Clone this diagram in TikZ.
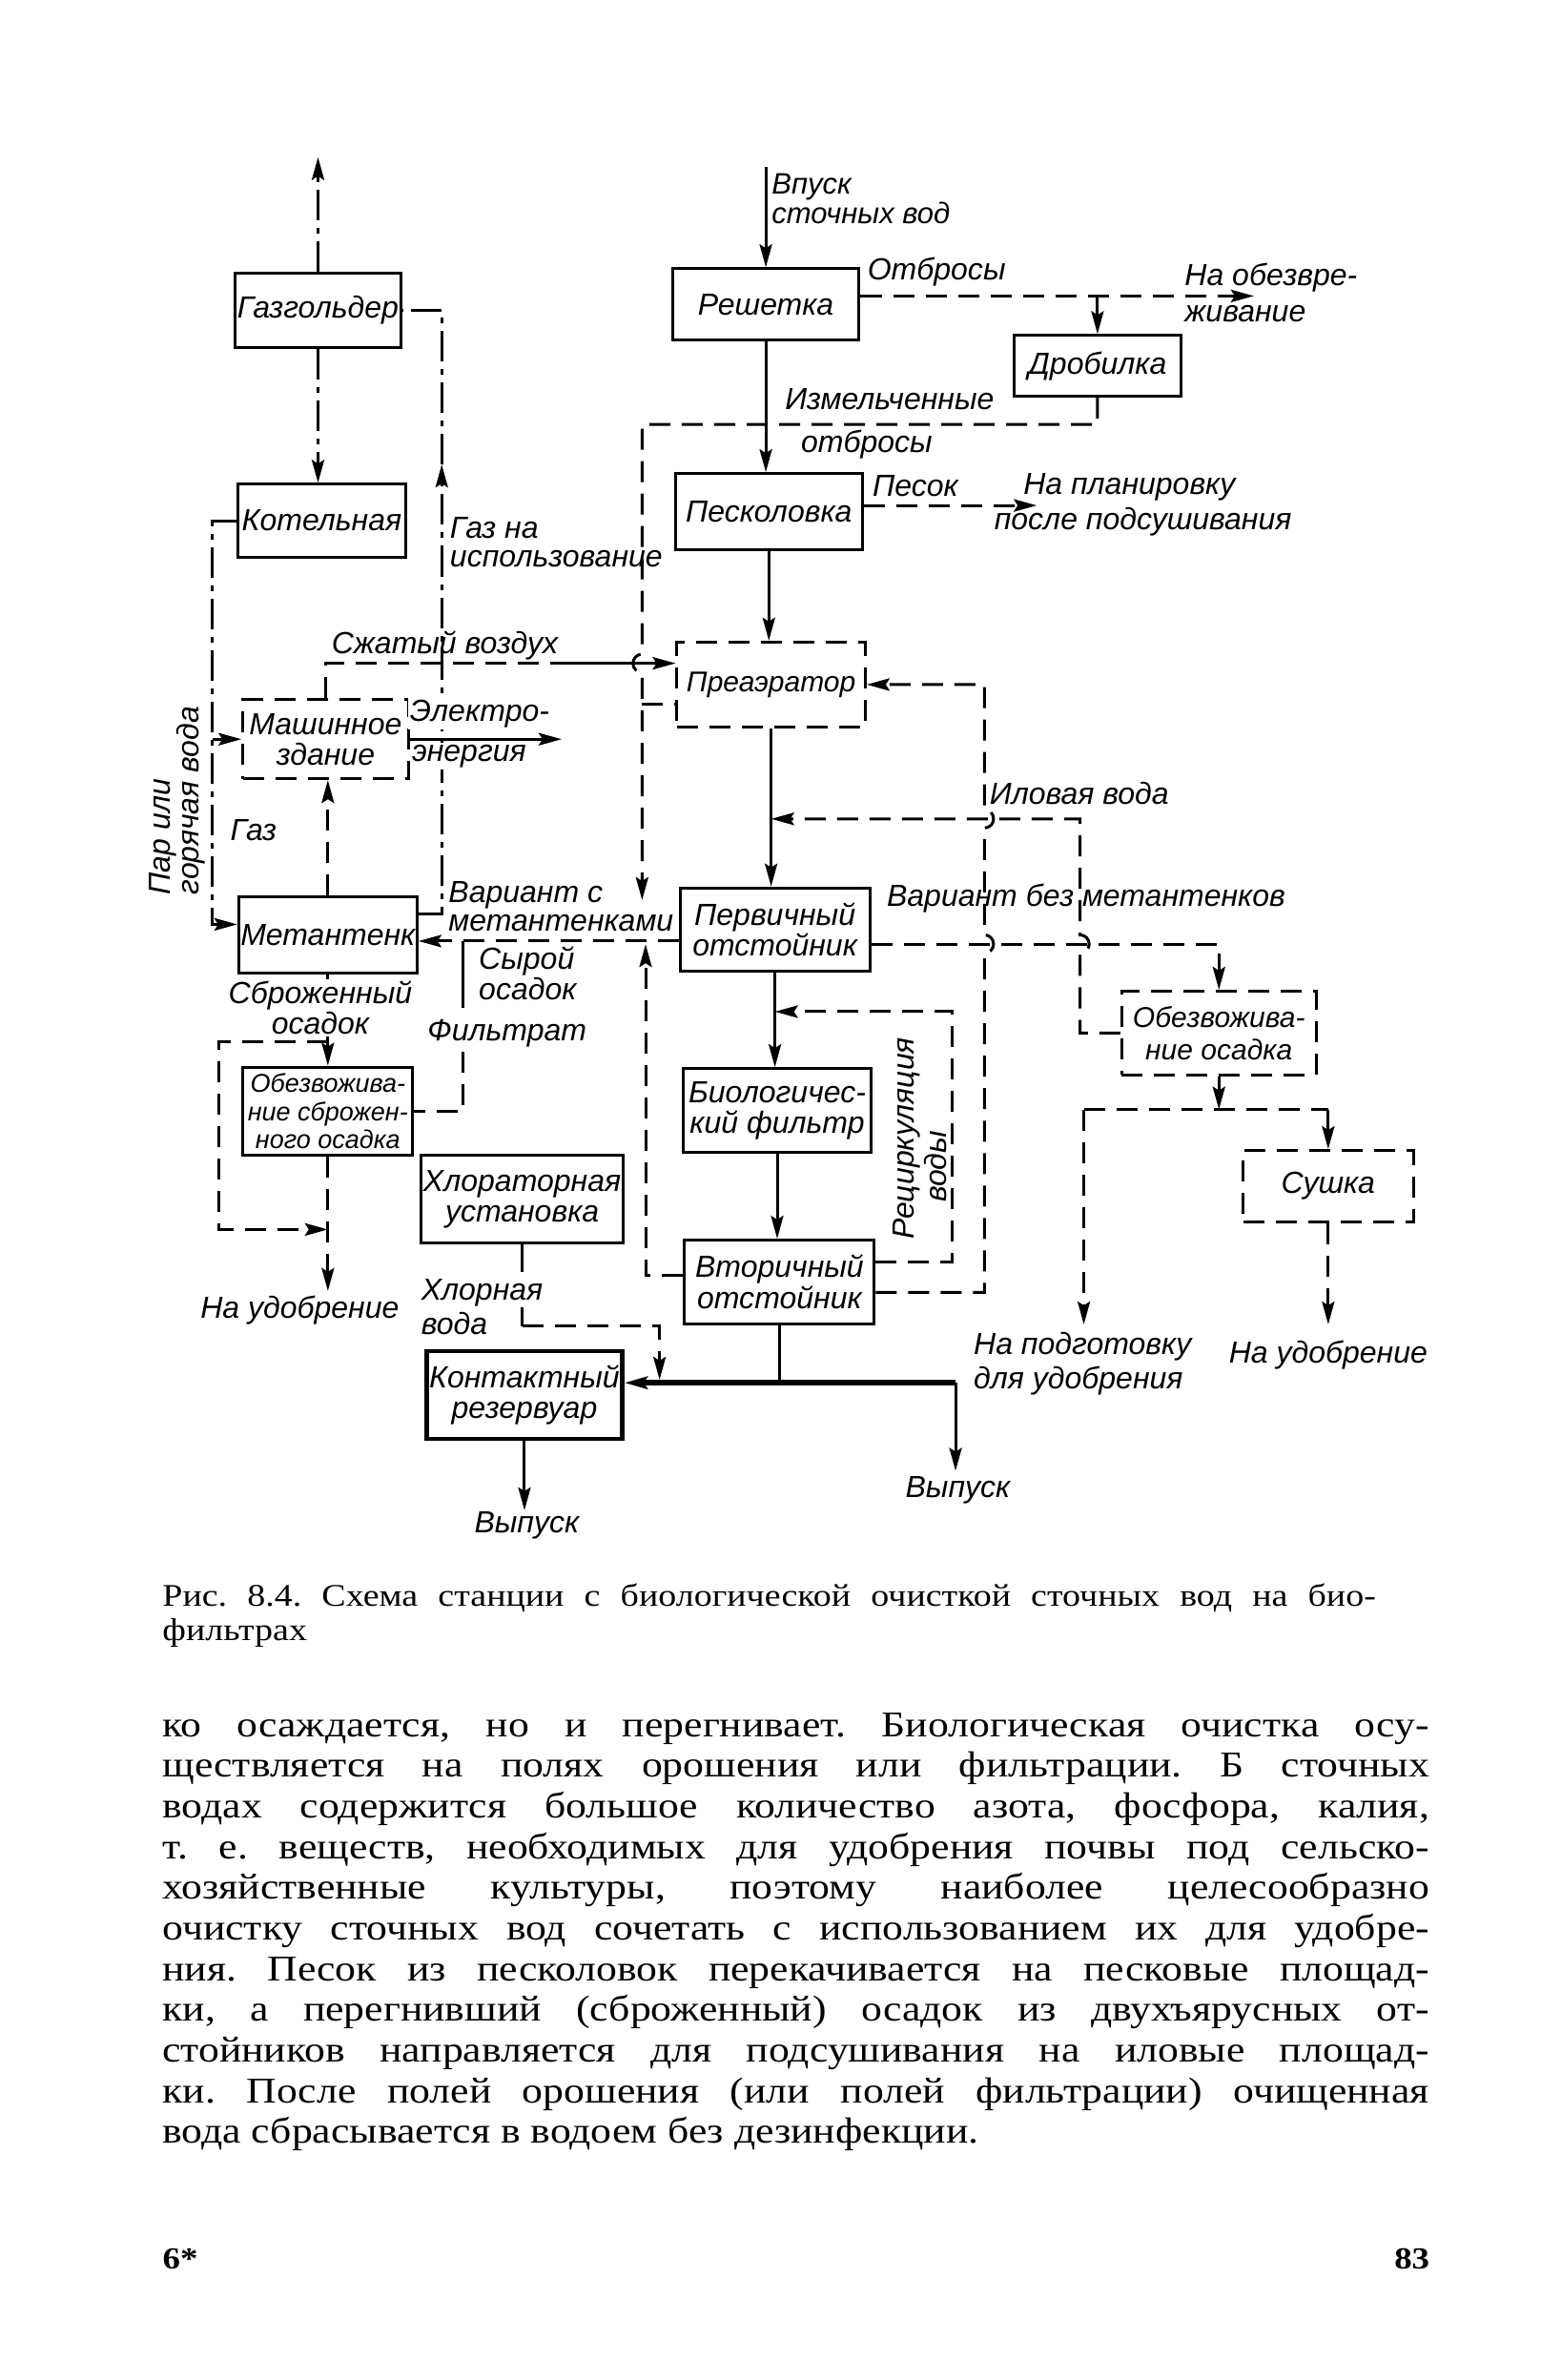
\documentclass[tikz,border=0pt]{standalone}
\usepackage{fontspec}
\setmainfont{Liberation Serif}
\newfontfamily\gost{Liberation Sans}
\newfontfamily\bookfont{Liberation Serif}[FakeStretch=1.15]
\usetikzlibrary{arrows.meta,calc}

\newcommand{\lblfont}{\gost\itshape\fontsize{16}{16}\selectfont}
\newcommand{\midfont}{\gost\itshape\fontsize{15}{17}\selectfont}
\newcommand{\smlfont}{\gost\itshape\fontsize{13.5}{14.5}\selectfont}
\newcommand{\txtfont}{\bookfont\fontsize{19}{20}\selectfont}

\begin{document}
\frenchspacing
\begin{tikzpicture}[x=0.7956pt,y=-0.7956pt,
  >={Stealth[length=12pt,width=6.5pt,inset=2pt]},
  box/.style={draw,line width=1.5pt,inner sep=1pt,align=center,font=\lblfont},
  dbox/.style={box,dash pattern=on 11pt off 6pt},
  sz/.style 2 args={minimum width=#1*0.7956pt,minimum height=#2*0.7956pt},
  mline/.style={line width=1.5pt},
  dline/.style={line width=1.5pt,dash pattern=on 11pt off 6pt},
  gline/.style={line width=1.5pt,dash pattern=on 16pt off 4pt on 3pt off 4pt},
  bline/.style={line width=3pt},
  lab/.style={font=\lblfont,inner sep=1pt,align=center},
]
\useasboundingbox (0,0) rectangle (1015,1568);

%Boxes
\node[box,sz={109}{49}] (gasholder) at (209.5,204.5) {Газгольдер};
\node[box,sz={110}{48}] (boiler) at (212,343) {Котельная};
\node[dbox,sz={109}{52}] (machine) at (214.5,487) {Машинное\\здание};
\node[box,sz={110}{50}] (digester) at (216,616) {Метантенк};
\node[box,sz={112}{58},font=\smlfont] (dewatA) at (216,732) {Обезвожива-\\ние сброжен-\\ного осадка};
\node[box,sz={128}{58}] (chlor) at (344,790) {Хлораторная\\установка};
\node[box,sz={129}{58},line width=2.2pt] (contact) at (345.5,919) {Контактный\\резервуар};
\node[box,sz={123}{47}] (screen) at (504.5,200.5) {Решетка};
\node[box,sz={110}{40}] (crusher) at (723,241) {Дробилка};
\node[box,sz={123}{50}] (grit) at (506.5,337) {Песколовка};
\node[dbox,sz={124}{56},font=\midfont] (preaer) at (508,451) {Преаэратор};
\node[box,sz={125}{55}] (primary) at (510.5,612.5) {Первичный\\отстойник};
\node[box,sz={124}{55}] (biofilter) at (512,731.5) {Биологичес-\\кий фильтр};
\node[box,sz={125}{55}] (secondary) at (513.5,844.5) {Вторичный\\отстойник};
\node[dbox,sz={128}{55},font=\midfont] (dewatB) at (803,680.5) {Обезвожива-\\ние осадка};
\node[dbox,sz={112}{47}] (dryer) at (875,781.5) {Сушка};

%Water line
\coordinate (inlet) at (504.5,110);
\draw[mline,->] (inlet) -- (screen.north);
\draw[mline,->] (screen.south) -- (screen.south |- grit.north);
\draw[mline,->] (grit.south) -- (grit.south |- preaer.north);
\draw[mline,->] (preaer.south) -- (preaer.south |- primary.north);
\draw[mline,->] (primary.south) -- (primary.south |- biofilter.north);
\draw[mline,->] (biofilter.south) -- (biofilter.south |- secondary.north);
\coordinate (outJ) at (629.5,911);
\coordinate (outR) at (629.5,969);
\coordinate (outL) at (345.5,995);
\draw[mline] (secondary.south) -- (secondary.south |- outJ);
\draw[bline,->] (outJ) -- (outJ -| contact.east);
\draw[mline,->] (outJ) -- (outR);
\draw[mline,->] (contact.south) -- (outL);

%Screenings
\coordinate (waste) at (826,195);
\draw[dline,->] ($(screen.east)+(0,-5.5)$) -- (waste);
\draw[dline,->] (crusher.north |- waste) -- (crusher.north);
\coordinate (crushC) at (423,279.7);
\coordinate (vsTop) at (423,593);
\draw[dline,->] (crusher.south) |- (crushC) -- (423,431) arc[start angle=90,end angle=270,radius=4.8pt] -- (vsTop);
\coordinate (preStub) at (423,464);
\draw[dline] (preStub) -- (preStub -| preaer.west);

%Sand
\coordinate (sand) at (683,333);
\draw[dline,->] ($(grit.east)+(0,-4)$) -- (sand);

%Gas
\coordinate (gasUp) at (209.5,103.5);
\draw[gline,->] (gasholder.north) -- (gasUp);
\draw[gline,->] (gasholder.south) -- (gasholder.south |- boiler.north);
\coordinate (gasMid) at (291,306);
\coordinate (gasLow) at (291,602);
\draw[gline,->] ($(digester.east)+(0,-14)$) -- (gasLow) -- (gasMid);
\draw[gline] (gasMid) |- (gasholder.east);
\draw[dline,->] (digester.north) -- (digester.north |- machine.south);

%Steam
\coordinate (stmT) at (139.9,343);
\coordinate (stmB) at (139.9,609);
\coordinate (stmM) at (139.9,487);
\draw[gline,->] (boiler.west) -- (stmT) -- (stmB) -- (stmB -| digester.west);
\draw[gline,->] (stmM) -- (machine.west);

%Air and power
\coordinate (airB) at (367,437);
\draw[dline] (machine.north) |- (airB);
\draw[mline,->] (airB) -- (airB -| preaer.west);
\coordinate (elec) at (370,487);
\draw[mline,->] (machine.east) -- (elec);

%Sludge with digesters
\draw[dline,->] ($(primary.west)+(0,7.5)$) -- ($(digester.east)+(0,4)$);
\coordinate (exL) at (425.3,622);
\draw[dline,->] ($(secondary.west)+(0,-4)$) -| (exL);
\coordinate (ftTop) at (305,620);
\coordinate (ftMid) at (305,664);
\coordinate (ftLow) at (305,693);
\coordinate (ftBot) at (305,732);
\draw[mline] (ftTop) -- (ftMid);
\draw[dline] (ftLow) -- (ftBot) -- (ftBot -| dewatA.east);
\draw[mline,->] (digester.south) -- (digester.south |- dewatA.north);
\coordinate (bpA) at (216,686);
\coordinate (bpB) at (143.9,686);
\coordinate (bpC) at (143.9,810);
\coordinate (bpD) at (216,810);
\draw[dline,->] (bpA) -- (bpB) -- (bpC) -- (bpD);
\coordinate (fertL) at (216,850.5);
\draw[dline,->] (dewatA.south) -- (fertL);

%Chlorine
\coordinate (clA) at (344,838);
\coordinate (clB) at (344,861);
\coordinate (clC) at (344,873.6);
\coordinate (clD) at (434.5,909);
\draw[mline] (chlor.south) -- (clA);
\draw[mline] (clB) -- (clC);
\draw[dline,->] (clC) -| (clD);

%Return lines
\coordinate (recC) at (627.5,666.5);
\draw[dline,->] ($(secondary.east)+(0,-13)$) -| (recC) -- (recC -| primary.south);
\coordinate (rtA) at (648.5,851.5);
\coordinate (rtB) at (648.5,451);
\draw[dline,->] ($(secondary.east)+(0,7)$) -- (rtA) -- (648.5,628) arc[start angle=-90,end angle=90,radius=4.8pt] -- (648.5,545.5) arc[start angle=-90,end angle=90,radius=4.8pt] -- (rtB) -- (preaer.east);
\coordinate (ilA) at (711.5,680.5);
\coordinate (ilB) at (711.5,539.5);
\draw[dline,->] (dewatB.west) -- (ilA) -- (711.5,628) arc[start angle=-90,end angle=90,radius=4.8pt] -- (ilB) -- (ilB -| preaer.south);

%Sludge without digesters
\coordinate (vnC) at (803,622);
\draw[dline,->] ($(primary.east)+(0,9.5)$) -- (vnC) -- (vnC |- dewatB.north);
\coordinate (spC) at (803,731);
\coordinate (spL) at (714,731);
\coordinate (spR) at (875,731);
\coordinate (prepEnd) at (714,872.6);
\coordinate (fertR) at (875,872.6);
\draw[mline,->] (dewatB.south) -- (spC);
\draw[dline] (spL) -- (spR);
\draw[dline,->] (spL) -- (prepEnd);
\draw[dline,->] (spR) -- (dryer.north);
\draw[dline,->] (dryer.south) -- (fertR);

% Text Node
\node[lab,anchor=north west,align=left,font=\gost\itshape\fontsize{15.5}{14}\selectfont] (inletlab) at (507,113) {Впуск\\сточных вод};
\node[lab] (wastelab) at (617,179) {Отбросы};
\node[lab,anchor=west,align=left,font=\gost\itshape\fontsize{16}{19}\selectfont] (disposelab) at (779,193) {На обезвре-\\живание};
\node[lab] (crushlab1) at (586,263) {Измельченные};
\node[lab] (crushlab2) at (571,293) {отбросы};
\node[lab] (sandlab) at (603,320) {Песок};
\node[lab] (levlab1) at (744,321) {На планировку};
\node[lab] (levlab2) at (753,344) {после подсушивания};
\node[lab,anchor=west,align=left,font=\gost\itshape\fontsize{16}{15}\selectfont] (uselab) at (295,357) {Газ на\\использование};
\node[lab,rotate=90,anchor=west,align=left,font=\gost\itshape\fontsize{16}{15}\selectfont] (steamlab) at (116.5,591) {Пар или\\горячая вода};
\node[lab] (airlab) at (293,425) {Сжатый воздух};
\node[lab,fill=white] (eleclab1) at (316,470.5) {Электро-};
\node[lab,fill=white] (eleclab2) at (309,498) {энергия};
\node[lab] (gaslab) at (167,547) {Газ};
\node[lab,anchor=north west,align=left,font=\gost\itshape\fontsize{16}{15.4}\selectfont] (vslab) at (294,579) {Вариант с\\метантенками};
\node[lab,anchor=north west,align=left,font=\gost\itshape\fontsize{16}{14.8}\selectfont] (rawlab) at (314,622) {Сырой\\осадок};
\node[lab] (ftlab) at (334,681) {Фильтрат};
\node[lab,fill=white,font=\gost\itshape\fontsize{16}{13.5}\selectfont] (dslab) at (211,664) {Сброженный\\осадок};
\node[lab] (fertLlab) at (197.5,863) {На удобрение};
\node[lab,anchor=north west,align=left,font=\gost\itshape\fontsize{16}{18}\selectfont] (chlorlab) at (276,841) {Хлорная\\вода};
\node[lab] (outLlab) at (347,1005) {Выпуск};
\node[lab] (outRlab) at (631,982) {Выпуск};
\node[lab] (illab) at (711,522.5) {Иловая вода};
\node[lab] (vnlab) at (715.5,591.5) {Вариант без метантенков};
\node[lab,rotate=90] (reclab1) at (597,750) {Рециркуляция};
\node[lab,rotate=90] (reclab2) at (616,768.5) {воды};
\node[lab,anchor=north west,align=left,font=\gost\itshape\fontsize{16}{18}\selectfont] (preplab) at (640,876) {На подготовку\\для удобрения};
\node[lab] (fertRlab) at (875,893) {На удобрение};

% Caption and page text
\node[anchor=base west,inner sep=0pt,font=\bookfont\fontsize{16.5}{17}\selectfont] (cap1) at (106.8,1058) {\makebox[636pt][s]{Рис. 8.4. Схема станции с биологической очисткой сточных вод на био-}};
\node[anchor=base west,inner sep=0pt,font=\bookfont\fontsize{16.5}{17}\selectfont] (cap2) at (106.8,1081) {фильтрах};
\foreach \ln [count=\i] in {
  {ко осаждается, но и перегнивает. Биологическая очистка осу-},
  {ществляется на полях орошения или фильтрации. Б сточных},
  {водах содержится большое количество азота, фосфора, калия,},
  {т. е. веществ, необходимых для удобрения почвы под сельско-},
  {хозяйственные культуры, поэтому наиболее целесообразно},
  {очистку сточных вод сочетать с использованием их для удобре-},
  {ния. Песок из песколовок перекачивается на песковые площад-},
  {ки, а перегнивший (сброженный) осадок из двухъярусных от-},
  {стойников направляется для подсушивания на иловые площад-},
  {ки. После полей орошения (или полей фильтрации) очищенная}}
  \node[anchor=base west,inner sep=0pt,font=\txtfont] (body\i) at (106.8,{1144+(\i-1)*26.8}) {\makebox[664pt][s]{\ln}};
\node[anchor=base west,inner sep=0pt,font=\txtfont] (body11) at (106.8,1412) {вода сбрасывается в водоем без дезинфекции.};
\node[anchor=base west,inner sep=0pt,font=\bookfont\bfseries\fontsize{16}{16}\selectfont] (pageL) at (107,1495) {6*};
\node[anchor=base east,inner sep=0pt,font=\bookfont\bfseries\fontsize{16}{16}\selectfont] (pageR) at (942,1495) {83};

\end{tikzpicture}
\end{document}
